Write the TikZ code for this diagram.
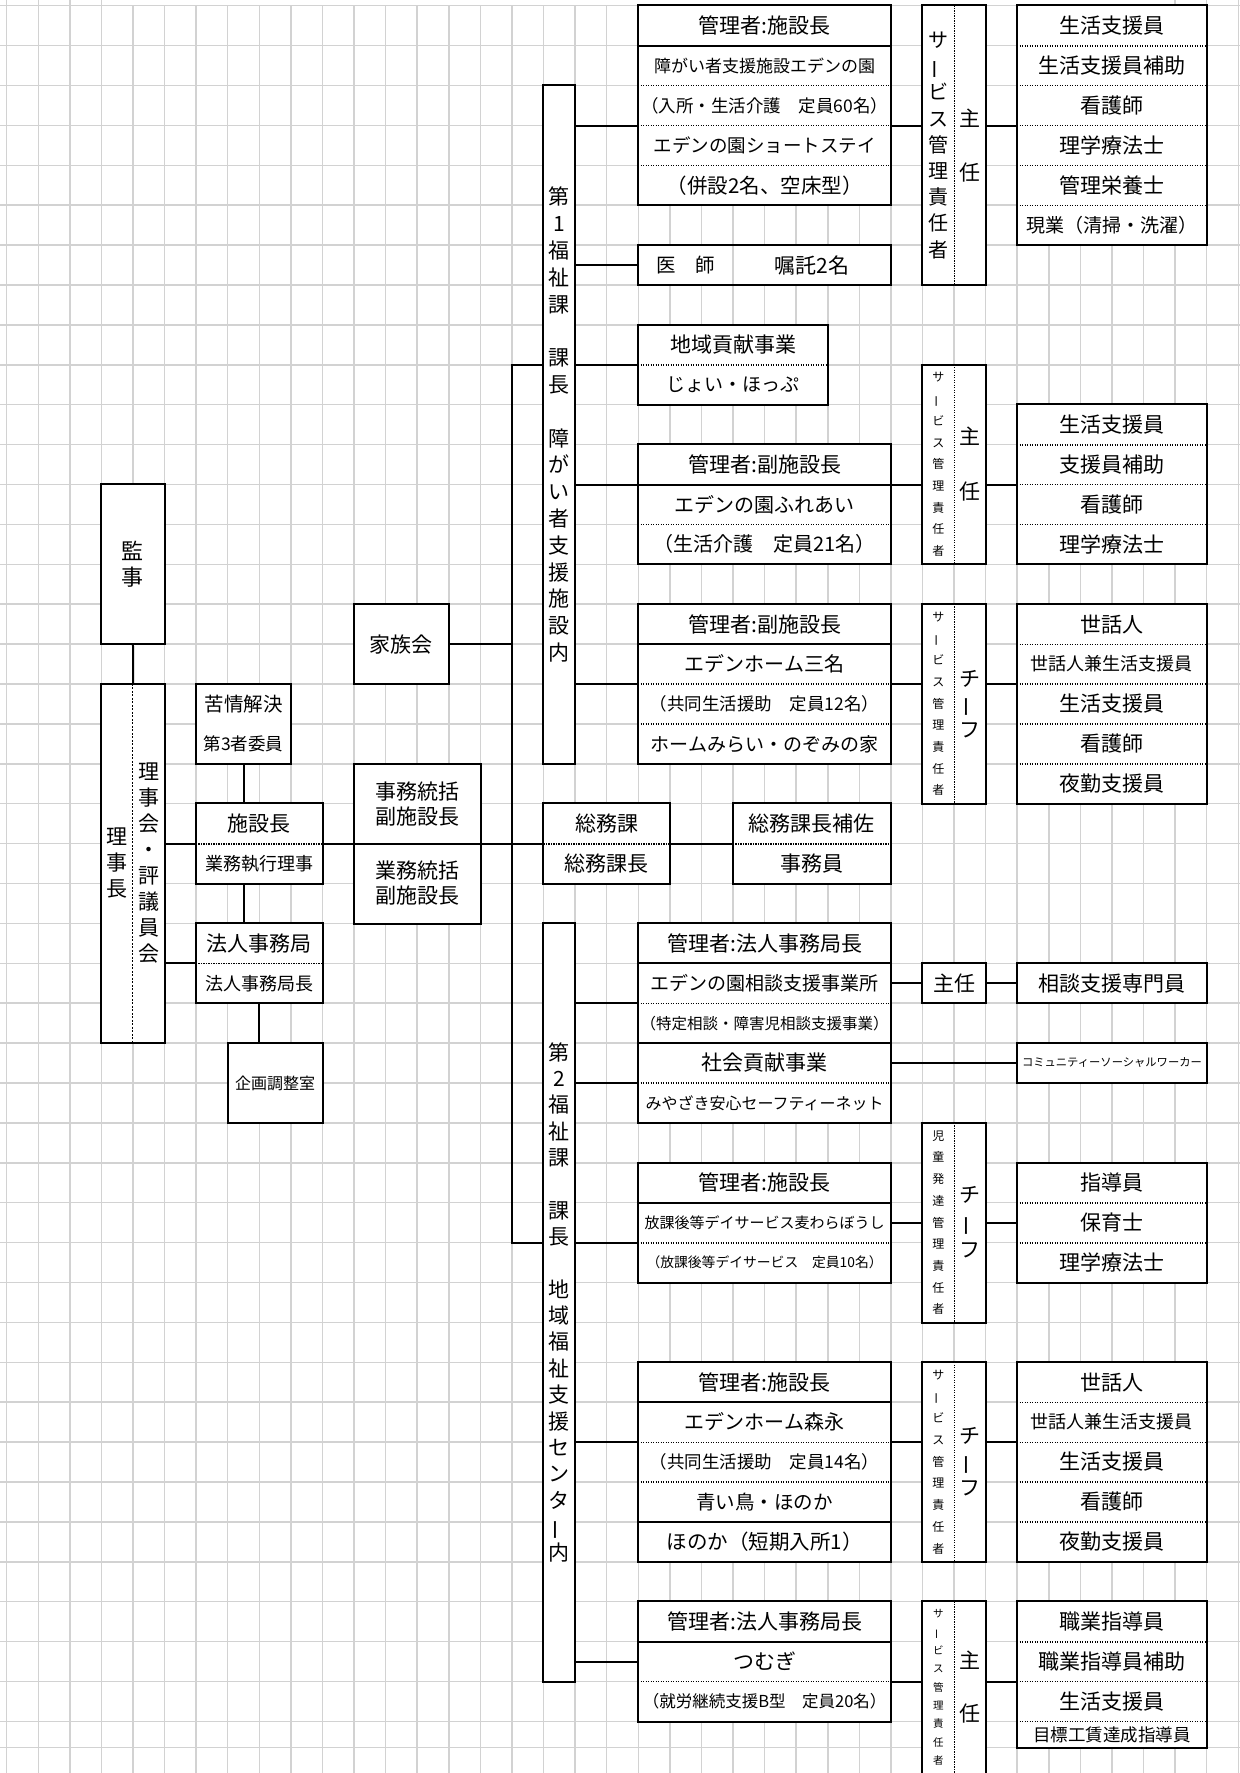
\documentclass[tikz,border=0pt]{standalone}
\usepackage{fontspec}
\setmainfont{Noto Sans CJK JP}
\definecolor{gridgray}{RGB}{210,210,210}
\newcommand{\jsz}[1]{\fontsize{#1}{#1}\selectfont}
\newcommand{\tsz}[2]{\fontsize{#1}{#2}\selectfont}
\newcommand{\tbar}{\rotatebox[origin=c]{90}{ー}}

\begin{document}
\begin{tikzpicture}[
  x=31.58pt, y=-39.9pt,
  % 1 unit = one spreadsheet column / one row (rows counted downward)
  grd/.style={draw=gridgray, line width=1.5pt},
  frm/.style={line width=2pt},
  link/.style={line width=2pt},
  sep/.style={line width=1.5pt, dash pattern=on 1.4pt off 1.1pt},
  tsep/.style={line width=0.8pt, dash pattern=on 2pt off 1.5pt},
  cell/.style 2 args={fill=white, inner sep=0pt, align=center,
    minimum width=#1*31.58pt, minimum height=#2*39.9pt},
  every node/.style={font=\jsz{21}}
]
  \useasboundingbox (-0.2112,-0.1421) rectangle (39.054,44.294);
  % ---- grid ----
  \foreach \c in {0,...,39} \draw[grd] (\c,0) -- (\c,44.294);
  \foreach \c in {0,1,2,3,37,38,39} \draw[grd] (\c,-0.1421) -- (\c,0);
  \foreach \r in {0,...,43,43.66} \draw[grd] (-0.2112,\r) -- (39.054,\r);

  % ---- 監事 / 理事長 / 理事会・評議員会 ----
  \node[cell={2}{4}, font=\tsz{22}{26}] (kansa) at (4,14) {監\\事};
  \draw[frm] (kansa.north west) rectangle (kansa.south east);
  \node[cell={1}{9}, font=\tsz{21}{26}] (rijicho) at (3.5,21.5) {理\\事\\長};
  \node[cell={1}{9}, font=\tsz{21}{26}] (rijikai) at (4.5,21.5) {理\\事\\会\\・\\評\\議\\員\\会};
  \draw[frm] (rijicho.north west) rectangle (rijikai.south east);
  \draw[tsep] (rijikai.north west) -- (rijikai.south west);

  % ---- 苦情解決・施設長・法人事務局・企画調整室 ----
  \node[cell={3}{1}, font=\jsz{19.5}] (kujo1) at (7.5,17.5) {苦情解決};
  \node[cell={3}{1}, font=\jsz{17.5}] (kujo2) at (7.5,18.5) {第3者委員};
  \draw[frm] (kujo1.north west) rectangle (kujo2.south east);
  \node[cell={4}{1}] (shi1) at (8,20.5) {施設長};
  \node[cell={4}{1}, font=\jsz{18}] (shi2) at (8,21.5) {業務執行理事};
  \draw[frm] (shi1.north west) rectangle (shi2.south east);
  \node[cell={4}{1}] (hoj1) at (8,23.5) {法人事務局};
  \node[cell={4}{1}, font=\jsz{18}] (hoj2) at (8,24.5) {法人事務局長};
  \draw[frm] (hoj1.north west) rectangle (hoj2.south east);
  \node[cell={3}{2}, font=\jsz{16}] (kikaku) at (8.5,27) {企画調整室};
  \draw[frm] (kikaku.north west) rectangle (kikaku.south east);

  % ---- 事務統括 / 家族会 ----
  \node[cell={4}{2}, font=\tsz{21}{25}] (jimu1) at (13,20) {事務統括\\副施設長};
  \node[cell={4}{2}, font=\tsz{21}{25}] (jimu2) at (13,22) {業務統括\\副施設長};
  \draw[frm] (jimu1.north west) rectangle (jimu2.south east);
  \draw[frm] (jimu1.south west) -- (jimu1.south east);
  \node[cell={3}{2}] (kazoku) at (12.5,16) {家族会};
  \draw[frm] (kazoku.north west) rectangle (kazoku.south east);

  % ---- 第1福祉課 / 第2福祉課 ----
  \node[cell={1}{17}, font=\tsz{21}{26.8}] (dai1) at (17.5,10.5)
    {第\\1\\福\\祉\\課\\\mbox{}\\課\\長\\\mbox{}\\障\\が\\い\\者\\支\\援\\施\\設\\内};
  \draw[frm] (dai1.north west) rectangle (dai1.south east);
  \node[cell={1}{19}, font=\tsz{21}{26.35}] (dai2) at (17.5,32.5)
    {第\\2\\福\\祉\\課\\\mbox{}\\課\\長\\\mbox{}\\地\\域\\福\\祉\\支\\援\\セ\\ン\\タ\\\tbar\\内};
  \draw[frm] (dai2.north west) rectangle (dai2.south east);

  % ---- 総務課 ----
  \node[cell={4}{1}] (somu1) at (19,20.5) {総務課};
  \node[cell={4}{1}] (somu2) at (19,21.5) {総務課長};
  \draw[frm] (somu1.north west) rectangle (somu2.south east);
  \node[cell={5}{1}] (hosa1) at (25.5,20.5) {総務課長補佐};
  \node[cell={5}{1}] (hosa2) at (25.5,21.5) {事務員};
  \draw[frm] (hosa1.north west) rectangle (hosa2.south east);

  % ---- 障がい者支援施設エデンの園 ----
  \node[cell={8}{1}] (a1) at (24,0.5) {管理者:施設長};
  \node[cell={8}{1}, font=\jsz{17}] (a2) at (24,1.5) {障がい者支援施設エデンの園};
  \node[cell={8}{1}, font=\jsz{17.5}] (a3) at (24,2.5) {（入所・生活介護　定員60名）};
  \node[cell={8}{1}, font=\jsz{18.5}] (a4) at (24,3.5) {エデンの園ショートステイ};
  \node[cell={8}{1}, font=\jsz{20.5}] (a5) at (24,4.5) {（併設2名、空床型）};
  \draw[frm] (a1.north west) rectangle (a5.south east);
  \node[cell={3}{1}, font=\jsz{19.5}] (ishiL) at (21.5,6.5) {医　師};
  \node[cell={5}{1}] (ishiR) at (25.5,6.5) {嘱託2名};
  \draw[grd] (ishiR.north west) -- (ishiR.south west);
  \draw[frm] (ishiL.north west) rectangle (ishiR.south east);
  \node[cell={1}{7}, font=\tsz{20}{26.2}] (sa1L) at (29.5,3.5) {サ\\\tbar\\ビ\\ス\\管\\理\\責\\任\\者};
  \node[cell={1}{7}, font=\tsz{21}{27}] (sa1R) at (30.5,3.5) {主\\\mbox{}\\任};
  \draw[frm] (sa1L.north west) rectangle (sa1R.south east);
  \node[cell={6}{1}] (s1a) at (35,0.5) {生活支援員};
  \node[cell={6}{1}] (s1b) at (35,1.5) {生活支援員補助};
  \node[cell={6}{1}] (s1c) at (35,2.5) {看護師};
  \node[cell={6}{1}] (s1d) at (35,3.5) {理学療法士};
  \node[cell={6}{1}] (s1e) at (35,4.5) {管理栄養士};
  \node[cell={6}{1}, font=\jsz{19}] (s1f) at (35,5.5) {現業（清掃・洗濯）};
  \draw[frm] (s1a.north west) rectangle (s1f.south east);

  % ---- 地域貢献事業 ----
  \node[cell={6}{1}] (c1) at (23,8.5) {地域貢献事業};
  \node[cell={6}{1}, font=\jsz{19}] (c2) at (23,9.5) {じょい・ほっぷ};
  \draw[frm] (c1.north west) rectangle (c2.south east);

  % ---- エデンの園ふれあい ----
  \node[cell={8}{1}] (b1) at (24,11.5) {管理者:副施設長};
  \node[cell={8}{1}, font=\jsz{20}] (b2) at (24,12.5) {エデンの園ふれあい};
  \node[cell={8}{1}, font=\jsz{20}] (b3) at (24,13.5) {（生活介護　定員21名）};
  \draw[frm] (b1.north west) rectangle (b3.south east);
  \node[cell={1}{5}, font=\tsz{12}{21.7}] (sa2L) at (29.5,11.5) {サ\\\tbar\\ビ\\ス\\管\\理\\責\\任\\者};
  \node[cell={1}{5}, font=\tsz{21}{27.5}] (sa2R) at (30.5,11.5) {主\\\mbox{}\\任};
  \draw[frm] (sa2L.north west) rectangle (sa2R.south east);
  \node[cell={6}{1}] (s2a) at (35,10.5) {生活支援員};
  \node[cell={6}{1}] (s2b) at (35,11.5) {支援員補助};
  \node[cell={6}{1}] (s2c) at (35,12.5) {看護師};
  \node[cell={6}{1}] (s2d) at (35,13.5) {理学療法士};
  \draw[frm] (s2a.north west) rectangle (s2d.south east);

  % ---- エデンホーム三名 ----
  \node[cell={8}{1}] (cc1) at (24,15.5) {管理者:副施設長};
  \node[cell={8}{1}, font=\jsz{20}] (cc2) at (24,16.5) {エデンホーム三名};
  \node[cell={8}{1}, font=\jsz{17.5}] (cc3) at (24,17.5) {（共同生活援助　定員12名）};
  \node[cell={8}{1}, font=\jsz{19}] (cc4) at (24,18.5) {ホームみらい・のぞみの家};
  \draw[frm] (cc1.north west) rectangle (cc4.south east);
  \node[cell={1}{5}, font=\tsz{12}{21.7}] (sa3L) at (29.5,17.5) {サ\\\tbar\\ビ\\ス\\管\\理\\責\\任\\者};
  \node[cell={1}{5}, font=\tsz{21}{25.5}] (sa3R) at (30.5,17.5) {チ\\\tbar\\フ};
  \draw[frm] (sa3L.north west) rectangle (sa3R.south east);
  \node[cell={6}{1}] (s3a) at (35,15.5) {世話人};
  \node[cell={6}{1}, font=\jsz{18}] (s3b) at (35,16.5) {世話人兼生活支援員};
  \node[cell={6}{1}] (s3c) at (35,17.5) {生活支援員};
  \node[cell={6}{1}] (s3d) at (35,18.5) {看護師};
  \node[cell={6}{1}] (s3e) at (35,19.5) {夜勤支援員};
  \draw[frm] (s3a.north west) rectangle (s3e.south east);

  % ---- エデンの園相談支援事業所 / 社会貢献事業 ----
  \node[cell={8}{1}] (d1) at (24,23.5) {管理者:法人事務局長};
  \node[cell={8}{1}, font=\jsz{19}] (d2) at (24,24.5) {エデンの園相談支援事業所};
  \node[cell={8}{1}, font=\jsz{15.5}] (d3) at (24,25.5) {（特定相談・障害児相談支援事業）};
  \node[cell={8}{1}] (d4) at (24,26.5) {社会貢献事業};
  \node[cell={8}{1}, font=\jsz{16}] (d5) at (24,27.5) {みやざき安心セーフティーネット};
  \draw[frm] (d1.north west) rectangle (d5.south east);
  \node[cell={2}{1}] (dsh) at (30,24.5) {主任};
  \draw[frm] (dsh.north west) rectangle (dsh.south east);
  \node[cell={6}{1}] (dso) at (35,24.5) {相談支援専門員};
  \draw[frm] (dso.north west) rectangle (dso.south east);
  \node[cell={6}{1}, font=\jsz{11.3}] (dcw) at (35,26.5) {コミュニティーソーシャルワーカー};
  \draw[frm] (dcw.north west) rectangle (dcw.south east);

  % ---- 放課後等デイサービス麦わらぼうし ----
  \node[cell={8}{1}] (e1) at (24,29.5) {管理者:施設長};
  \node[cell={8}{1}, font=\jsz{15}] (e2) at (24,30.5) {放課後等デイサービス麦わらぼうし};
  \node[cell={8}{1}, font=\jsz{13.8}] (e3) at (24,31.5) {（放課後等デイサービス　定員10名）};
  \draw[frm] (e1.north west) rectangle (e3.south east);
  \node[cell={1}{5}, font=\tsz{12}{21.7}] (sa4L) at (29.5,30.5) {児\\童\\発\\達\\管\\理\\責\\任\\者};
  \node[cell={1}{5}, font=\tsz{21}{27.5}] (sa4R) at (30.5,30.5) {チ\\\tbar\\フ};
  \draw[frm] (sa4L.north west) rectangle (sa4R.south east);
  \node[cell={6}{1}] (s4a) at (35,29.5) {指導員};
  \node[cell={6}{1}] (s4b) at (35,30.5) {保育士};
  \node[cell={6}{1}] (s4c) at (35,31.5) {理学療法士};
  \draw[frm] (s4a.north west) rectangle (s4c.south east);

  % ---- エデンホーム森永 ----
  \node[cell={8}{1}] (f1) at (24,34.5) {管理者:施設長};
  \node[cell={8}{1}, font=\jsz{20}] (f2) at (24,35.5) {エデンホーム森永};
  \node[cell={8}{1}, font=\jsz{17.5}] (f3) at (24,36.5) {（共同生活援助　定員14名）};
  \node[cell={8}{1}, font=\jsz{19.5}] (f4) at (24,37.5) {青い鳥・ほのか};
  \node[cell={8}{1}, font=\jsz{20.5}] (f5) at (24,38.5) {ほのか（短期入所1）};
  \draw[frm] (f1.north west) rectangle (f5.south east);
  \node[cell={1}{5}, font=\tsz{12}{21.7}] (sa5L) at (29.5,36.5) {サ\\\tbar\\ビ\\ス\\管\\理\\責\\任\\者};
  \node[cell={1}{5}, font=\tsz{21}{26}] (sa5R) at (30.5,36.5) {チ\\\tbar\\フ};
  \draw[frm] (sa5L.north west) rectangle (sa5R.south east);
  \node[cell={6}{1}] (s5a) at (35,34.5) {世話人};
  \node[cell={6}{1}, font=\jsz{18}] (s5b) at (35,35.5) {世話人兼生活支援員};
  \node[cell={6}{1}] (s5c) at (35,36.5) {生活支援員};
  \node[cell={6}{1}] (s5d) at (35,37.5) {看護師};
  \node[cell={6}{1}] (s5e) at (35,38.5) {夜勤支援員};
  \draw[frm] (s5a.north west) rectangle (s5e.south east);

  % ---- つむぎ ----
  \node[cell={8}{1}] (g1) at (24,40.5) {管理者:法人事務局長};
  \node[cell={8}{1}] (g2) at (24,41.5) {つむぎ};
  \node[cell={8}{1}, font=\jsz{16.5}] (g3) at (24,42.5) {（就労継続支援B型　定員20名）};
  \draw[frm] (g1.north west) rectangle (g3.south east);
  \node[cell={1}{4.3}, font=\tsz{10.5}{18.3}] (sa6L) at (29.5,42.15) {サ\\\tbar\\ビ\\ス\\管\\理\\責\\任\\者};
  \node[cell={1}{4.3}, font=\tsz{21}{26.5}] (sa6R) at (30.5,42.15) {主\\\mbox{}\\任};
  \draw[frm] (sa6L.south west) -- (sa6L.north west) -- (sa6R.north east) -- (sa6R.south east);
  \node[cell={6}{1}] (s6a) at (35,40.5) {職業指導員};
  \node[cell={6}{1}] (s6b) at (35,41.5) {職業指導員補助};
  \node[cell={6}{1}] (s6c) at (35,42.5) {生活支援員};
  \node[cell={6}{0.66}, font=\jsz{17.5}] (s6d) at (35,43.33) {目標工賃達成指導員};
  \draw[frm] (s6a.north west) rectangle (s6d.south east);

  % ---- row separators ----
  \foreach \n in {a1,b1,cc1,d1,d3,e1,f1,f4,g1}
    \draw[frm] (\n.south west) -- (\n.south east);
  \foreach \n in {a2,a3,a4,s1a,s1b,s1c,s1d,s1e,c1,b2,s2a,s2b,s2c,
                  cc2,cc3,s3a,s3b,s3c,s3d,d2,d4,e2,s4a,s4b,
                  f2,f3,s5a,s5b,s5c,s5d,g2,s6a,s6b,s6c,
                  shi1,hoj1,somu1,hosa1}
    \draw[sep] (\n.south west) -- (\n.south east);
  \foreach \n in {sa1L,sa2L,sa3L,sa4L,sa5L,sa6L}
    \draw[sep] (\n.north east) -- (\n.south east);

  % ---- connectors ----
  \draw[link] (kansa.south) -- (rijicho.north east);
  \draw[link] (rijikai.east |- shi1.south) -- (shi1.south west);
  \draw[link] (rijikai.east |- hoj1.south) -- (hoj1.south west);
  \draw[link] (kujo2.south) -- (kujo2.south |- shi1.north);
  \draw[link] (kujo2.south |- shi2.south) -- (kujo2.south |- hoj1.north);
  \draw[link] (hoj2.south) -- (hoj2.south |- kikaku.north);
  \draw[link] (shi1.south east) -- (jimu1.south west);
  \draw[link] (jimu1.south east) -- (somu1.south west);
  \draw[link] (somu1.south east) -- (hosa1.south west);
  \coordinate (trunkT) at (16,9);
  \coordinate (trunkB) at (16,31);
  \draw[link] (dai1.west |- trunkT) -- (trunkT) -- (trunkB) -- (dai2.west |- trunkB);
  \draw[link] (kazoku.east) -- (kazoku.east -| trunkT);
  % 第1福祉課
  \draw[link] (dai1.east |- a3.south) -- (a3.south west);
  \draw[link] (a3.south east) -- (sa1L.west |- a3.south);
  \draw[link] (sa1R.east |- a3.south) -- (s1c.south west);
  \draw[link] (dai1.east |- ishiL.west) -- (ishiL.west);
  \draw[link] (dai1.east |- c1.south) -- (c1.south west);
  \draw[link] (dai1.east |- b1.south) -- (b1.south west);
  \draw[link] (b1.south east) -- (sa2L.west |- b1.south);
  \draw[link] (sa2R.east |- b1.south) -- (s2b.south west);
  \draw[link] (dai1.east |- cc2.south) -- (cc2.south west);
  \draw[link] (cc2.south east) -- (sa3L.west |- cc2.south);
  \draw[link] (sa3R.east |- cc2.south) -- (s3b.south west);
  % 第2福祉課
  \draw[link] (dai2.east |- d2.south) -- (d2.south west);
  \draw[link] (dai2.east |- d4.south) -- (d4.south west);
  \draw[link] (d2.east) -- (dsh.west);
  \draw[link] (dsh.east) -- (dso.west);
  \draw[link] (d4.east) -- (dcw.west);
  \draw[link] (dai2.east |- e2.south) -- (e2.south west);
  \draw[link] (e2.east) -- (sa4L.west |- e2.east);
  \draw[link] (sa4R.east |- e2.east) -- (s4b.west);
  \draw[link] (dai2.east |- f2.south) -- (f2.south west);
  \draw[link] (f2.south east) -- (sa5L.west |- f2.south);
  \draw[link] (sa5R.east |- f2.south) -- (s5b.south west);
  \draw[link] (dai2.east |- g2.west) -- (g2.west);
  \draw[link] (g2.south east) -- (sa6L.west |- g2.south);
  \draw[link] (sa6R.east |- g2.south) -- (s6b.south west);
\end{tikzpicture}
\end{document}
